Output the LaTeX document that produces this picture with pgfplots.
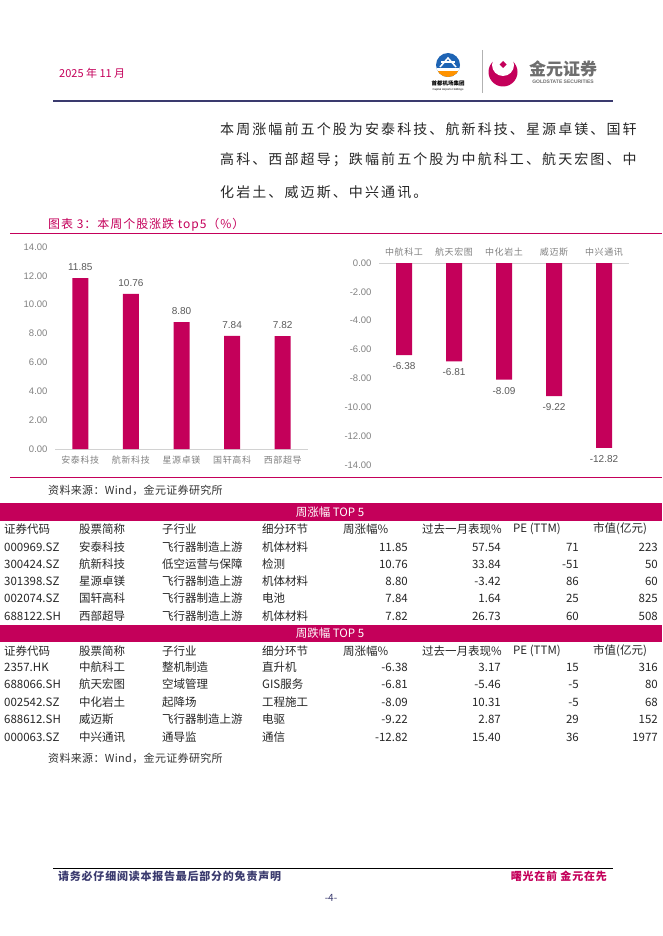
\documentclass[border=0pt]{standalone}
\usepackage{fontspec}
\setmainfont{Noto Sans CJK SC}
\newfontfamily\arial{Liberation Sans}
\usepackage{pgfplots}
\pgfplotsset{compat=1.18}
\definecolor{mag}{HTML}{C4005A}
\definecolor{navy}{HTML}{3A3A6E}
\definecolor{tgray}{HTML}{808080}
\definecolor{vgray}{HTML}{595959}
\definecolor{capblue}{HTML}{1E64B4}
\definecolor{logogray}{HTML}{6E6E6E}
\newcommand{\fs}[1]{\fontsize{#1}{#1}\selectfont}
\newcommand{\trow}[9]{%
 \node[anchor=west] at (4,#1) {#2};
 \node[anchor=west] at (79,#1) {#3};
 \node[anchor=west] at (162,#1) {#4};
 \node[anchor=west] at (262,#1) {#5};
 \node[anchor=east] at (408,#1) {#6};
 \node[anchor=east] at (501,#1) {#7};
 \node[anchor=east] at (579,#1) {#8};
 \node[anchor=east] at (658,#1) {#9};
}
\newcommand{\thead}[1]{%
 \begin{scope}[text=mag]
 \node[anchor=west] at (4,#1) {证券代码};
 \node[anchor=west] at (79,#1) {股票简称};
 \node[anchor=west] at (162,#1) {子行业};
 \node[anchor=west] at (262,#1) {细分环节};
 \node[anchor=west] at (343,#1) {周涨幅\%};
 \node[anchor=west] at (422,#1) {过去一月表现\%};
 \node[anchor=west] at (513,#1) {PE (TTM)};
 \node[anchor=west] at (593,#1) {市值(亿元)};
 \end{scope}
}
\begin{document}
\begin{tikzpicture}
\begin{scope}[x=1pt,y=-1pt]
\path[use as bounding box] (0,0) rectangle (662,936);
% header
\node[anchor=west, inner sep=0, text=mag, font=\fs{11}] at (59,73) {2025 年 11 月};
\fill[capblue] (448,65) circle (12);
\begin{scope}
\clip (448,65) circle (12);
\fill[white] (435,68) rectangle (461,71);
\fill[orange!85!yellow] (435,71) rectangle (461,78);
\end{scope}
\draw[white, line width=1.5] (440,67) -- (448,58) -- (456,67);
\draw[white, line width=1.1] (441,62) -- (455,62);
\node[inner sep=0, font=\bfseries\fs{5.5}] at (448,83) {首都机场集团};
\node[inner sep=0, font=\arial\fs{2.8}] at (448,89.5) {Capital Airports Holdings};
\draw[gray!60, line width=0.5] (482,50) -- (482,93);
\fill[mag] (503,72) circle (14.5);
\fill[white] (503,65) circle (11);
\fill[mag] (503,61) -- (506.5,64.5) -- (503,68) -- (499.5,64.5) -- cycle;
\node[inner sep=0, font=\bfseries\fs{17}, text=logogray] at (563,69) {金元证券};
\node[inner sep=0, font=\arial\bfseries\fs{5}, text=logogray] at (563,81.5) {GOLDSTATE SECURITIES};
\draw[navy, line width=1.2] (53,101) -- (613,101);
% paragraph
\begin{scope}[every node/.style={anchor=west, inner sep=0, text=black!85, font=\fs{14}\addfontfeature{LetterSpace=15}}]
\node at (220,129) {本周涨幅前五个股为安泰科技、航新科技、星源卓镁、国轩};
\node at (220,160) {高科、西部超导；跌幅前五个股为中航科工、航天宏图、中};
\node at (220,192) {化岩土、威迈斯、中兴通讯。};
\end{scope}
% figure title
\node[anchor=west, inner sep=0, text=mag, font=\fs{12}\addfontfeature{LetterSpace=8}] at (48,225) {图表 3：本周个股涨跌 top5（\%）};
\draw[mag, line width=0.8] (10,233) -- (662,233);
\draw[mag, line width=0.8] (10,477) -- (662,477);
\node[anchor=west, inner sep=0, font=\fs{11}\addfontfeature{LetterSpace=3}, text=black!80] at (48,490) {资料来源：Wind，金元证券研究所};
% table
\fill[mag] (0,503) rectangle (662,521);
\node[inner sep=0, text=white, font=\fs{11.5}] at (330,512) {周涨幅 TOP 5};
\fill[mag] (0,625) rectangle (662,642);
\node[inner sep=0, text=white, font=\fs{11.5}] at (330,633.5) {周跌幅 TOP 5};
\begin{scope}[every node/.style={inner sep=0, font=\fs{11.5}, text=black!85}]
\thead{529}
\trow{547}{000969.SZ}{安泰科技}{飞行器制造上游}{机体材料}{11.85}{57.54}{71}{223}
\trow{564}{300424.SZ}{航新科技}{低空运营与保障}{检测}{10.76}{33.84}{-51}{50}
\trow{581}{301398.SZ}{星源卓镁}{飞行器制造上游}{机体材料}{8.80}{-3.42}{86}{60}
\trow{598}{002074.SZ}{国轩高科}{飞行器制造上游}{电池}{7.84}{1.64}{25}{825}
\trow{616}{688122.SH}{西部超导}{飞行器制造上游}{机体材料}{7.82}{26.73}{60}{508}
\thead{651}
\trow{667}{2357.HK}{中航科工}{整机制造}{直升机}{-6.38}{3.17}{15}{316}
\trow{684}{688066.SH}{航天宏图}{空域管理}{GIS服务}{-6.81}{-5.46}{-5}{80}
\trow{702}{002542.SZ}{中化岩土}{起降场}{工程施工}{-8.09}{10.31}{-5}{68}
\trow{719}{688612.SH}{威迈斯}{飞行器制造上游}{电驱}{-9.22}{2.87}{29}{152}
\trow{737}{000063.SZ}{中兴通讯}{通导监}{通信}{-12.82}{15.40}{36}{1977}
\end{scope}
\node[anchor=west, inner sep=0, font=\fs{11}\addfontfeature{LetterSpace=3}, text=black!80] at (48,758) {资料来源：Wind，金元证券研究所};
% footer
\draw[black, line width=1] (53,868) -- (613,868);
\node[anchor=west, inner sep=0, font=\bfseries\fs{11}\addfontfeature{LetterSpace=7}, text=navy] at (58,876) {请务必仔细阅读本报告最后部分的免责声明};
\node[anchor=east, inner sep=0, font=\bfseries\fs{11}\addfontfeature{LetterSpace=7}, text=mag] at (607,876) {曙光在前 金元在先};
\node[inner sep=0, font=\fs{10}, text=navy] at (331,898) {-4-};
\end{scope}
% left chart
\begin{axis}[
 at={(55pt,-449pt)}, anchor=south west,
 scale only axis, width=253pt, height=202pt,
 xmin=-0.5, xmax=4.5, ymin=0, ymax=14,
 axis line style={draw=none}, tick style={draw=none}, major tick length=0pt,
 ytick={0,2,4,6,8,10,12,14},
 yticklabels={0.00,2.00,4.00,6.00,8.00,10.00,12.00,14.00},
 xtick={0,1,2,3,4},
 xticklabels={安泰科技,航新科技,星源卓镁,国轩高科,西部超导},
 yticklabel style={font=\arial\fs{9.5}, text=tgray, xshift=-4pt},
 xticklabel style={font=\fs{9}\addfontfeature{LetterSpace=7}, text=tgray, yshift=-3pt},
 ybar, bar width=16pt,
 nodes near coords={\pgfmathprintnumber[fixed,fixed zerofill,precision=2,assume math mode=true]{\pgfplotspointmeta}},
 nodes near coords style={font=\arial\fs{10}, text=vgray, yshift=4pt},
 clip=false,
]
\draw[gray!35, line width=0.8pt] (axis cs:-0.5,0) -- (axis cs:4.5,0);
\addplot[fill=mag, draw=none] coordinates {(0,11.85) (1,10.76) (2,8.80) (3,7.84) (4,7.82)};
\end{axis}
% right chart
\begin{axis}[
 at={(379pt,-465pt)}, anchor=south west,
 scale only axis, width=250pt, height=202pt,
 xmin=-0.5, xmax=4.5, ymin=-14, ymax=0,
 axis line style={draw=none}, tick style={draw=none}, major tick length=0pt,
 ytick={-14,-12,-10,-8,-6,-4,-2,0},
 yticklabels={-14.00,-12.00,-10.00,-8.00,-6.00,-4.00,-2.00,0.00},
 xtick={0,1,2,3,4},
 xticklabel pos=right,
 xticklabels={中航科工,航天宏图,中化岩土,威迈斯,中兴通讯},
 yticklabel style={font=\arial\fs{9.5}, text=tgray, xshift=-4pt},
 xticklabel style={font=\fs{9}\addfontfeature{LetterSpace=7}, text=tgray, yshift=3pt},
 ybar, bar width=16pt,
 nodes near coords={\pgfmathprintnumber[fixed,fixed zerofill,precision=2,assume math mode=true]{\pgfplotspointmeta}},
 nodes near coords style={font=\arial\fs{10}, text=vgray, yshift=-4pt},
 clip=false,
]
\draw[gray!35, line width=0.8pt] (axis cs:-0.5,0) -- (axis cs:4.5,0);
\addplot[fill=mag, draw=none] coordinates {(0,-6.38) (1,-6.81) (2,-8.09) (3,-9.22) (4,-12.82)};
\end{axis}
\end{tikzpicture}
\end{document}
